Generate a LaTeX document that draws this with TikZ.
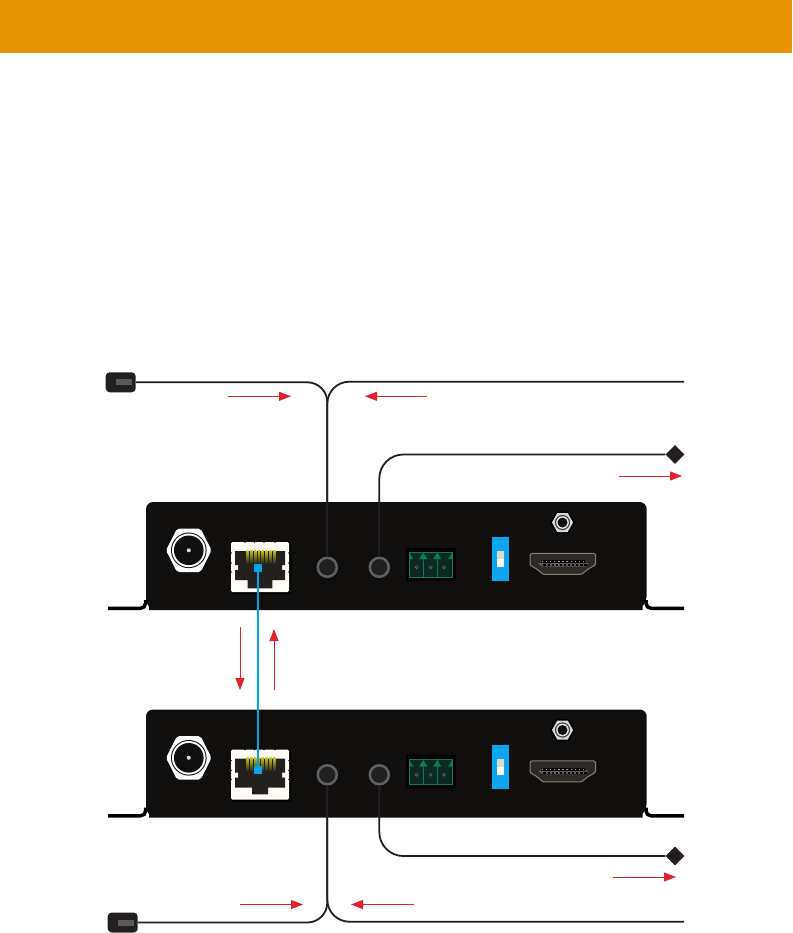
\documentclass[tikz,border=0pt]{standalone}
\usepackage{tikz}
\usetikzlibrary{calc,arrows.meta,shapes.geometric}

\definecolor{bandorange}{HTML}{E89400}
\definecolor{panelblack}{HTML}{100F0D}
\definecolor{cablegray}{HTML}{231F20}
\definecolor{flowred}{HTML}{E2202A}
\definecolor{linkblue}{HTML}{00A5E5}
\definecolor{switchblue}{HTML}{0DA5EE}
\definecolor{rjdark}{HTML}{22201E}
\definecolor{rjwhite}{HTML}{FFFEF6}
\definecolor{rjyellow}{HTML}{C8C81E}
\definecolor{blockgreen}{HTML}{0E7A5A}
\definecolor{blockdark}{HTML}{0C2A22}
\definecolor{hdmitan}{HTML}{8A7F68}
\definecolor{hdmibody}{HTML}{2C2A28}

\tikzset{
  cable/.style={draw=cablegray, line width=1.8pt},
  foot/.style={draw=black, line width=3.5pt},
  flow/.style={draw=flowred, line width=1pt, -{Triangle[length=12pt,width=9pt]}},
  jack/.style={circle, draw=black!62, fill=rjdark, line width=2.5pt, minimum size=19pt, inner sep=0pt},
  plugend/.style={diamond, fill=cablegray, minimum size=19pt, inner sep=0pt},
  plug/.style={rectangle, rounded corners=4pt, fill=cablegray, minimum width=30pt, minimum height=20pt, inner sep=0pt},
  plugslot/.style={rectangle, fill=black!65, minimum width=16.5pt, minimum height=6pt, inner sep=0pt},
  portmark/.style={rectangle, fill=linkblue, minimum size=8pt, inner sep=0pt},
  % args: half width of the RJ45 tab, lower edge of the tab
  pics/device/.style n args={2}{code={
    % Housing
    \fill[panelblack] (149,610) -- (149,606.5) -- (146,602) [rounded corners=7pt] -- (146,502)
      -- (646.7,502) -- (646.7,602) [sharp corners] -- (642.5,606.5) -- (642.5,610) -- cycle;
    \draw[foot, rounded corners=5pt] (108,608.3) -| (145.6,600);
    \draw[foot, rounded corners=5pt] (684,608.3) -| (646,600);

    % Coax socket
    \fill[white, rounded corners=2pt] (166,550.3) -- (177,528.7) -- (200.6,528.7) -- (211.6,550.3)
      -- (200.6,572) -- (177,572) -- cycle;
    \fill[panelblack] (188.8,550.3) circle (17.8);
    \fill[white] (188.8,550.3) circle (16.8);
    \fill[panelblack] (188.8,550.3) circle (14.8);
    \fill[black!15] (188.8,550.3) circle (2);

    % RJ45
    \fill[black] (232,543) rectangle (291,594);
    \fill[rjwhite, rounded corners=1.5pt] (231,542) rectangle (289,592);
    \fill[rjdark] (235,551) -- (285,551) -- (285,565) -- (282,565) -- (282,570) -- (285,570)
      -- (285,580) -- ({260+#1},580) -- ({260+#1},#2) -- ({260-#1},#2) -- ({260-#1},580)
      -- (235,580) -- (235,570) -- (238,570) -- (238,565) -- (235,565) -- cycle;
    \foreach \i in {0,...,7}
      \shade[top color=rjyellow, bottom color=rjdark] ({246.5+3.8*\i},550) rectangle ++(2.2,14);
    \foreach \i in {245,254.5,264,275}
      \fill[black] (\i,542) circle (0.8);
    \foreach \i in {553,563,572}{
      \fill[black] (231,\i) circle (0.8);
      \fill[black] (289,\i) circle (0.8);
    }

    % Audio jacks
    \node[jack] (jackA) at (327.3,567.3) {};
    \node[jack] (jackB) at (379.3,567.3) {};

    % Terminal block
    \fill[black] (406,547.7) rectangle (456,580.7);
    \fill[blockdark] (409.3,552.3) rectangle (452,577);
    \draw[blockgreen, line width=1pt] (409.3,552.3) rectangle (452,577);
    \foreach \i in {423.3,437.3}{
      \fill[blockgreen] (\i,552.5) -- (\i+4,559) -- (\i-4,559) -- cycle;
      \draw[blockgreen, line width=1pt] (\i,558) -- (\i,577);
    }
    \fill[blockgreen] (409.3,552.3) -- (413,559) -- (409.3,559) -- cycle;
    \fill[blockgreen] (452,552.3) -- (448.3,559) -- (452,559) -- cycle;
    \foreach \i in {416.7,430.7,444.2}{
      \fill[black!55] (\i,567.3) circle (1.8);
      \fill[blockdark] (\i,567.3) circle (0.9);
    }

    % Switch
    \fill[switchblue] (492,537) rectangle (509,581);
    \fill[black!15] (497,551) rectangle (504,559);
    \fill[white] (497,559) rectangle (504,567);

    % HDMI
    \filldraw[draw=hdmitan, fill=hdmibody, line width=1pt, rounded corners=2.5pt] (530,553.3) -- (595.7,553.3)
      -- (595.7,565) -- (588,569) [rounded corners=1pt] -- (581.7,574.3) -- (543,574.3) -- (536.7,569)
      -- (530,565) [rounded corners=2.5pt] -- cycle;
    \fill[black!65] (537.7,563) -- (589,563) -- (584,566.7) -- (542,566.7) -- cycle;
    \fill[black] (541,560.3) rectangle (585,563.2);
    \foreach \i in {0,...,10}{
      \fill[hdmitan!70!white] ({541.8+4.1*\i},561) rectangle ++(1.3,1.3);
      \fill[black] ({543.4+4.1*\i},564) rectangle ++(2.2,2.2);
    }

    % Small antenna socket
    \fill[black] (549.5,522.5) -- (556,511.5) -- (569,511.5) -- (575.5,522.5) -- (569,533.5) -- (556,533.5) -- cycle;
    \fill[black!15] (552,522.5) -- (557.3,513) -- (567.7,513) -- (573,522.5) -- (567.7,532) -- (557.3,532) -- cycle;
    \fill[black!75] (562.5,522.5) circle (7.6);
    \fill[black!8] (562.5,522.5) circle (6.3);
    \fill[panelblack] (562.5,522.5) circle (5);
  }}
}

\begin{document}
\begin{tikzpicture}[x=1pt,y=-1pt]
  \useasboundingbox (0,0) rectangle (792,933);

  % Header band
  \fill[bandorange] (0,0) rectangle (792,53);

  % Two units
  \pic (tx) at (0,0) {device={12.3}{588.3}};
  \pic (rx) at (0,207.5) {device={8}{586.8}};

  % Plugs and free ends
  \node[plug] (plugA) at (120.7,382.3) {};
  \node[plugslot] at (124.2,382) {};
  \node[plug] (plugB) at (122.7,922.5) {};
  \node[plugslot] at (126,922.5) {};
  \node[plugend] (endA) at (675,454.5) {};
  \node[plugend] (endB) at (675,856) {};
  \coordinate (freeA) at (684,381.7);
  \coordinate (freeB) at (684,921.7);

  % Cables
  \draw[cable, rounded corners=20pt] (plugA) -| (txjackA);
  \draw[cable, rounded corners=22pt] (freeA) -| (txjackA);
  \draw[cable, rounded corners=24pt] (txjackB) |- (endA);
  \draw[cable, rounded corners=20pt] (plugB) -| (rxjackA);
  \draw[cable, rounded corners=22pt] (freeB) -| (rxjackA);
  \draw[cable, rounded corners=24pt] (rxjackB) |- (endB);

  % Link between the RJ45 sockets
  \node[portmark] (txport) at (258,568) {};
  \node[portmark] (rxport) at (258,770) {};
  \draw[linkblue, line width=2pt] (txport) -- (rxport);

  % Red arrows
  \foreach \name/\sx/\sy/\ex/\ey in {a/228/396.3/291/396.3, b/427/396.3/365/396.3, c/619/476/682/476,
      d/240/627/240/690, e/274/690/274/629, f/240/904.5/303/904.5, g/414/904.5/351/904.5, h/613/877/676/877}{
    \coordinate (\name from) at (\sx,\sy);
    \coordinate (\name to) at (\ex,\ey);
    \draw[flow] (\name from) -- (\name to);
  }
\end{tikzpicture}
\end{document}
